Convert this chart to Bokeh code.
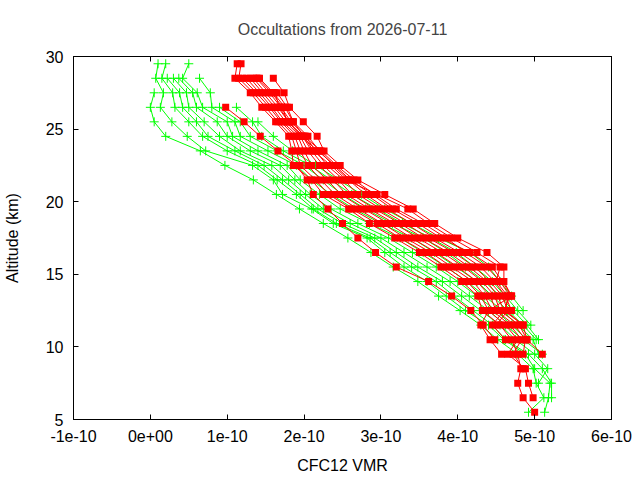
import numpy as np
from bokeh.plotting import figure
from bokeh.models import Range1d, LinearAxis, FixedTicker, ColumnDataSource
from bokeh.embed import file_html
from bokeh.resources import INLINE

N = None

title_text = "Occultations from 2026-07-11"
x_label = "CFC12 VMR"
y_label = "Altitude (km)"

# x values are in units of 1e-10 (VMR); tick labels carry the scale
x_ticks = [-1, 0, 1, 2, 3, 4, 5, 6]
x_tick_labels = ["-1e-10", "0e+00", "1e-10", "2e-10", "3e-10", "4e-10", "5e-10", "6e-10"]
y_ticks = [5, 10, 15, 20, 25, 30]

altitudes = [29.5, 28.5, 27.5, 26.5, 25.5, 24.5, 23.5, 22.5, 21.5, 20.5,
             19.5, 18.5, 17.5, 16.5, 15.5, 14.5, 13.5, 12.5, 11.5, 10.5,
             9.5, 8.5, 7.5, 6.5, 5.5]

# green profiles (VMR / 1e-10)
green_1 = [N, N, 0.05, 0.00, 0.05, 0.20, 0.65, 0.97, 1.34, 1.64, 1.94, 2.25, 2.57, 2.87, 3.16, 3.48, 3.75, 4.03, 4.30, 4.52, 4.78, 4.98, 5.02, 5.12, 4.92]
green_2 = [0.10, 0.07, 0.17, 0.13, 0.28, 0.48, 0.72, 1.33, 1.60, 1.72, 2.10, 2.38, 2.82, 3.05, 3.30, 3.60, 3.85, 4.10, 4.40, 4.60, 4.88, 5.00, 5.20, 5.18, 5.13]
green_3 = [0.20, 0.15, 0.29, 0.32, 0.50, 0.68, 1.00, 1.40, 1.65, 1.90, 2.12, 2.42, 2.86, 3.12, 3.40, 3.72, 3.95, 4.20, 4.45, 4.62, 4.92, 5.10, 5.22, 5.22, N]
green_4 = [N, 0.22, 0.38, 0.42, 0.60, 0.75, 1.10, 1.48, 1.72, 1.95, 2.18, 2.50, 2.92, 3.20, 3.48, 3.80, 4.05, 4.30, 4.55, 4.75, 5.00, 5.17, 5.05, N, N]
green_5 = [N, 0.30, 0.47, 0.50, 0.70, 0.90, 1.17, 1.58, 1.80, 2.02, 2.25, 2.60, 3.00, 3.30, 3.60, 3.90, 4.15, 4.40, 4.62, 4.85, 5.10, N, N, N, N]
green_6 = [N, 0.37, 0.55, 0.60, 0.87, 1.00, 1.30, 1.69, 1.88, 2.08, 2.35, 2.70, 3.10, 3.41, 3.72, 4.00, 4.25, 4.50, 4.70, 4.90, N, N, N, N, N]
green_7 = [0.50, 0.42, 0.61, 0.68, 1.00, 1.07, 1.40, 1.78, 1.95, 2.20, 2.47, 2.85, 3.25, 3.55, 3.85, 4.12, 4.35, 4.58, 4.78, 4.98, 5.05, N, N, N, N]
green_8 = [N, 0.64, 0.78, 0.80, 1.10, 1.17, 1.53, 1.90, 2.10, 2.35, 2.65, 3.00, 3.40, 3.70, 3.98, 4.25, 4.45, 4.65, 4.85, 5.02, N, N, N, N, N]
green_9 = [N, N, N, 0.90, 1.17, 1.30, 1.65, 2.00, 2.25, 2.50, 2.80, 3.15, 3.55, 3.85, 4.10, 4.35, 4.55, 4.72, 4.90, 5.05, N, N, N, N, N]
green_10 = [N, N, N, 1.12, 1.33, 1.45, 1.73, 2.08, 2.35, 2.62, 2.95, 3.28, 3.65, 3.98, 4.22, 4.45, 4.62, 4.78, 4.95, N, N, N, N, N, N]
green_11 = [N, N, N, N, 1.40, 1.60, 1.85, 2.15, 2.45, 2.75, 3.05, 3.40, 3.75, 4.16, 4.40, 4.55, 4.70, 4.85, N, N, N, N, N, N, N]

# red profiles (VMR / 1e-10)
red_1 = [N, N, N, 0.98, 1.22, 1.43, 1.66, 1.90, 2.04, 2.12, 2.31, 2.50, 2.70, 2.93, 3.20, 3.62, 3.92, 4.17, 4.33, 4.48, N, N, N, N, N]
red_2 = [1.13, 1.10, 1.30, 1.45, 1.63, 1.80, 1.84, 1.86, 2.10, 2.25, 2.58, 2.85, 3.18, 3.50, 3.78, 4.05, 4.26, 4.32, 4.55, 4.70, 4.78, 4.82, 4.78, 4.85, 5.00]
red_3 = [1.18, 1.15, 1.34, 1.50, 1.66, 1.84, 1.90, 1.95, 2.15, 2.32, 2.62, 2.95, 3.25, 3.58, 3.85, 4.12, 4.30, 4.40, 4.62, 4.78, 4.65, 4.88, 4.92, 4.98, N]
red_4 = [N, 1.20, 1.38, 1.55, 1.70, 1.88, 1.95, 2.05, 2.22, 2.40, 2.70, 3.02, 3.32, 3.65, 3.92, 4.20, 4.35, 4.45, 4.68, 4.83, 4.72, 4.85, N, N, N]
red_5 = [N, 1.25, 1.42, 1.58, 1.72, 1.92, 2.00, 2.10, 2.30, 2.48, 2.78, 3.10, 3.40, 3.72, 4.00, 4.25, 4.42, 4.50, 4.74, 4.88, 4.85, N, N, N, N]
red_6 = [N, 1.30, 1.46, 1.62, 1.76, 1.95, 2.05, 2.20, 2.38, 2.55, 2.85, 3.18, 3.48, 3.80, 4.08, 4.32, 4.48, 4.55, 4.80, 4.90, 5.10, N, N, N, N]
red_7 = [N, 1.34, 1.50, 1.66, 1.80, 1.98, 2.10, 2.25, 2.45, 2.62, 2.92, 3.25, 3.55, 3.88, 4.15, 4.38, 4.52, 4.60, 4.45, 4.62, N, N, N, N, N]
red_8 = [N, 1.38, 1.55, 1.70, 1.83, 2.02, 2.15, 2.30, 2.52, 2.70, 3.00, 3.32, 3.62, 3.95, 4.22, 4.42, 4.58, 4.65, 4.50, N, N, N, N, N, N]
red_9 = [N, 1.42, 1.60, 1.75, 1.86, 2.05, 2.20, 2.38, 2.58, 2.80, 3.08, 3.40, 3.70, 4.02, 4.30, 4.48, 4.62, 4.70, N, N, N, N, N, N, N]
red_10 = [N, 1.60, 1.74, 1.81, 1.99, 2.17, 2.26, 2.47, 2.70, 3.05, 3.42, 3.70, 4.00, 4.38, 4.60, 4.60, 4.70, N, N, N, N, N, N, N, N]
red_11 = [N, N, 1.65, 1.78, 1.86, 2.00, 2.22, 2.42, 2.65, 2.92, 3.20, 3.55, 3.85, 4.10, 4.38, 4.55, 4.68, 4.60, 4.85, N, N, N, N, N, N]
red_12 = [N, N, 1.62, 1.68, 1.80, 1.96, 2.18, 2.40, 2.60, 2.88, 3.15, 3.48, 3.78, 4.16, 4.45, 4.58, 4.70, 4.40, 4.30, 4.42, 4.57, N, N, N, N]
red_13 = [N, 1.40, 1.58, 1.72, 1.78, 2.00, 2.12, 2.35, 2.55, 2.95, 3.35, 3.62, 3.92, 4.25, 4.55, 4.50, 4.65, 4.62, 4.85, 4.90, N, N, N, N, N]

green_profiles = [green_1, green_2, green_3, green_4, green_5, green_6, green_7,
                  green_8, green_9, green_10, green_11]
red_profiles = [red_1, red_2, red_3, red_4, red_5, red_6, red_7, red_8, red_9,
                red_10, red_11, red_12, red_13]

FONT = "Liberation Sans"
FS = "16px"
GREEN = "#00ff00"
RED = "#ff0000"

p = figure(width=640, height=480, x_range=Range1d(-1, 6), y_range=Range1d(5, 30),
           output_backend="svg", toolbar_location=None,
           min_border_left=73, min_border_right=29, min_border_top=56, min_border_bottom=61)
p.background_fill_color = "white"
p.border_fill_color = "white"
p.outline_line_color = "black"
p.grid.visible = False

p.title.text = title_text
p.title.align = "center"
p.title.text_font = FONT
p.title.text_font_size = FS
p.title.text_font_style = "normal"
p.title.standoff = 37

xt = FixedTicker(ticks=x_ticks, minor_ticks=[])
yt = FixedTicker(ticks=y_ticks, minor_ticks=[])
overrides = {t: lab for t, lab in zip(x_ticks, x_tick_labels)}

def style_axis(ax, show_labels):
    ax.axis_line_color = "black"
    ax.major_tick_line_color = "black"
    ax.major_tick_in = 5
    ax.major_tick_out = 0
    ax.minor_tick_line_color = None
    ax.major_label_text_font = FONT
    ax.major_label_text_font_size = FS if show_labels else "0px"
    ax.major_label_text_color = "black"
    ax.axis_label_text_font = FONT
    ax.axis_label_text_font_size = FS
    ax.axis_label_text_font_style = "normal"
    ax.axis_label_text_color = "black"
    if not show_labels:
        ax.major_label_standoff = 0

p.xaxis.ticker = xt
p.yaxis.ticker = yt
p.xaxis.major_label_overrides = overrides
style_axis(p.xaxis[0], True)
style_axis(p.yaxis[0], True)
p.xaxis.axis_label = x_label
p.yaxis.axis_label = y_label
p.xaxis.major_label_standoff = 10
p.xaxis.axis_label_standoff = 12
p.yaxis.major_label_standoff = 10
p.yaxis.axis_label_standoff = 22

top_axis = LinearAxis(ticker=FixedTicker(ticks=x_ticks, minor_ticks=[]))
style_axis(top_axis, False)
p.add_layout(top_axis, "above")
right_axis = LinearAxis(ticker=FixedTicker(ticks=y_ticks, minor_ticks=[]))
style_axis(right_axis, False)
p.add_layout(right_axis, "right")

alt_arr = np.array(altitudes, dtype=float)

for prof in green_profiles:
    src = ColumnDataSource(dict(x=np.array(prof, dtype=float), y=alt_arr))
    p.line("x", "y", source=src, line_color=GREEN, line_width=1)
    p.scatter("x", "y", source=src, marker="cross", size=9, line_color=GREEN, line_width=1)

for prof in red_profiles:
    src = ColumnDataSource(dict(x=np.array(prof, dtype=float), y=alt_arr))
    p.line("x", "y", source=src, line_color=RED, line_width=1)
    p.scatter("x", "y", source=src, marker="square", size=7, line_color=RED, fill_color=RED, line_width=0)

open("out.html", "w").write(file_html(p, INLINE))
